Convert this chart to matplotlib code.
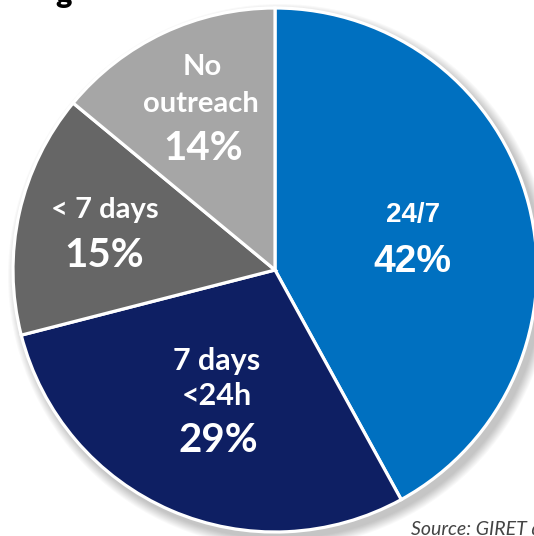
import numpy as np
import matplotlib.pyplot as plt
from matplotlib.patches import Circle

# outreach shares, clockwise from the top
labels = ['24/7', '7 days\n<24h', '< 7 days', 'No\noutreach']
shares = [42, 29, 15, 14]
colors = ['#0070C0', '#0E1F63', '#666666', '#A6A6A6']

W, H = 534, 536
fig = plt.figure(figsize=(W / 100, H / 100), dpi=100)
fig.patch.set_facecolor('white')
ax = fig.add_axes([0, 0, 1, 1])

cx, cy, r = 275, 270, 262

# soft shadow behind the pie
for i in range(10):
    ax.add_patch(Circle((cx + 5, cy + 6), r + 10 - i, color='black',
                        alpha=0.022, lw=0, zorder=0))

# y axis is flipped, so counterclock=True draws clockwise on screen
ax.pie(shares, colors=colors, startangle=-90, counterclock=True,
       center=(cx, cy), radius=r, frame=True,
       wedgeprops=dict(edgecolor='white', linewidth=2.3))
ax.set_xlim(0, W)
ax.set_ylim(H, 0)
ax.set_aspect('equal')
ax.axis('off')

lato = dict(family='Lato', weight='bold', color='white', ha='center', va='baseline')
arial = dict(family='Liberation Sans', weight='bold', color='white', ha='center', va='baseline')

ax.text(413, 222, labels[0], fontsize=20, **arial)
ax.text(412, 272, f'{shares[0]}%', fontsize=28, **arial)

ax.text(217, 370, '7 days', fontsize=22, **lato)
ax.text(217, 405, '<24h', fontsize=22, **lato)
ax.text(218, 452, f'{shares[1]}%', fontsize=29, **lato)

ax.text(105, 218, labels[2], fontsize=21, **lato)
ax.text(104, 267, f'{shares[2]}%', fontsize=29, **lato)

ax.text(202, 75, 'No', fontsize=21, **lato)
ax.text(201, 112, 'outreach', fontsize=21, **lato)
ax.text(203, 160, f'{shares[3]}%', fontsize=29, **lato)

ax.text(411, 535, 'Source: GIRET data', fontsize=14, style='italic',
        family='Lato', color='#444444', ha='left', va='baseline')
ax.text(55, 3, 'g', fontsize=22, family='Lato', weight='heavy',
        color='black', ha='left', va='baseline')

fig.savefig('out.png', dpi=100, facecolor='white')
